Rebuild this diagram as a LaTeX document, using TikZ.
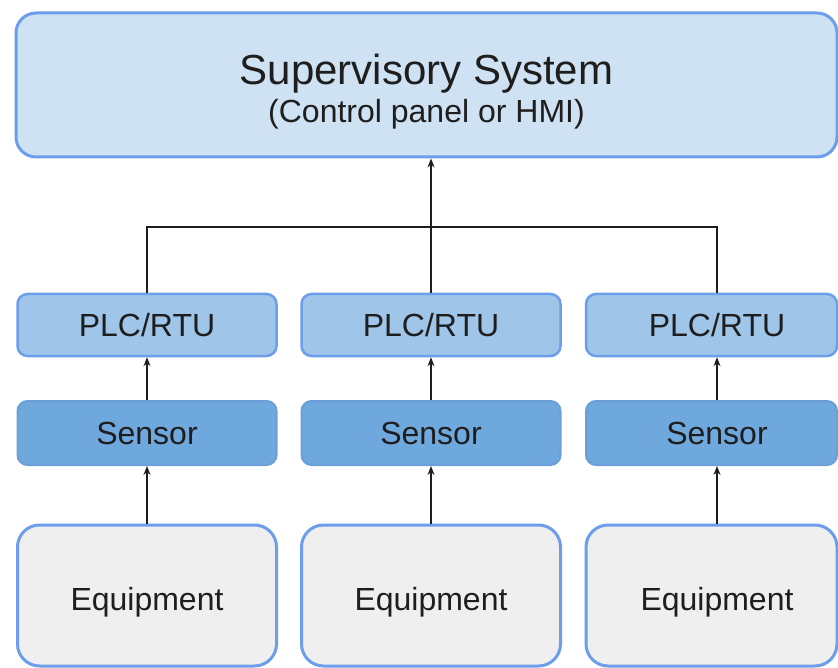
\documentclass[tikz,border=0pt]{standalone}
\usepackage{fontspec}
\setmainfont{Liberation Sans}
\usetikzlibrary{arrows.meta}
\definecolor{supfill}{HTML}{CFE2F3}
\definecolor{plcfill}{HTML}{9FC5E8}
\definecolor{senfill}{HTML}{6FA8DC}
\definecolor{eqfill}{HTML}{EFEFEF}
\definecolor{edge}{HTML}{6D9EEB}
\definecolor{senedge}{HTML}{6A9FD8}
\definecolor{ink}{HTML}{1E1E1E}
\tikzset{
  box/.style={rectangle, draw=edge, text=ink, inner sep=0pt,
    font=\fontsize{32}{38}\selectfont},
  supbox/.style={box, fill=supfill, line width=3pt, rounded corners=20pt,
    minimum width=821pt, minimum height=144pt, align=center},
  plcbox/.style={box, fill=plcfill, line width=2.5pt, rounded corners=10pt,
    minimum width=259pt, minimum height=62pt},
  senbox/.style={box, fill=senfill, draw=senedge, line width=2pt, rounded corners=10pt,
    minimum width=259pt, minimum height=64pt},
  eqbox/.style={box, fill=eqfill, line width=3pt, rounded corners=22pt,
    minimum width=259pt, minimum height=141pt, text height=29pt, text depth=0pt},
  link/.style={draw=ink, line width=1.2pt},
  arrowlink/.style={link, -{Stealth[length=9pt,width=7pt]}}
}
\begin{document}
\begin{tikzpicture}[x=1pt,y=-1pt]
\useasboundingbox (0,0) rectangle (838,668);
\clip (0,0) rectangle (838,668);
\fill[white] (0,0) rectangle (838,668);

\node[supbox] (sup) at (426.5,85)
  {\fontsize{42}{48}\selectfont\rule{0pt}{44pt}Supervisory System\\
   \fontsize{32}{39}\selectfont (Control panel or HMI)};

\coordinate (x1) at (147,0);
\coordinate (x2) at (431,0);
\coordinate (x3) at (717,0);
\coordinate (j) at (431,227);

\node[plcbox] (p1) at (147,325) {PLC/RTU};
\node[plcbox] (p2) at (431,325) {PLC/RTU};
\node[plcbox, minimum width=251pt] (p3) at (711.5,325) {\hspace*{11pt}PLC/RTU};

\node[senbox] (s1) at (147,433) {Sensor};
\node[senbox] (s2) at (431,433) {Sensor};
\node[senbox, minimum width=251pt] (s3) at (711.5,433) {\hspace*{11pt}Sensor};

\node[eqbox] (e1) at (147,595.5) {Equipment};
\node[eqbox] (e2) at (431,595.5) {Equipment};
\node[eqbox, minimum width=251pt] (e3) at (711.5,595.5) {\hspace*{11pt}Equipment};

% PLC tops to bus and up to supervisory
\draw[link] (p1.north) |- (j) -| (p3.north -| x3);
\draw[arrowlink] (p2.north) -- (sup.south -| x2);

% sensor -> PLC
\draw[arrowlink] (s1.north) -- (p1.south);
\draw[arrowlink] (s2.north) -- (p2.south);
\draw[arrowlink] (s3.north -| x3) -- (p3.south -| x3);

% equipment -> sensor
\draw[arrowlink] (e1.north) -- (s1.south);
\draw[arrowlink] (e2.north) -- (s2.south);
\draw[arrowlink] (e3.north -| x3) -- (s3.south -| x3);
\end{tikzpicture}
\end{document}
